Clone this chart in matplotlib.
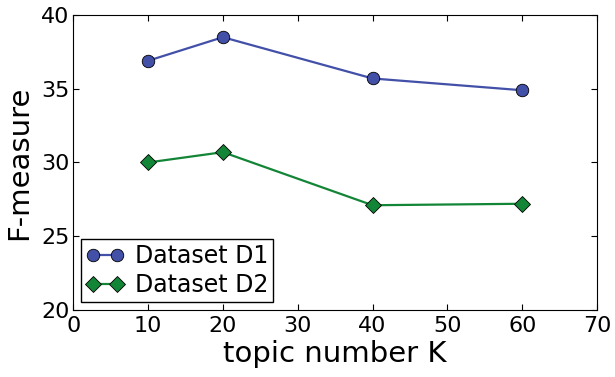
import matplotlib
matplotlib.use('Agg')
import matplotlib.pyplot as plt

# topic number K vs F-measure
topics = [10, 20, 40, 60]
d1_fmeasure = [36.9, 38.5, 35.7, 34.9]
d2_fmeasure = [30.0, 30.7, 27.1, 27.2]
labels = ['Dataset D1', 'Dataset D2']

blue = '#4250a8'
green = '#138537'

fig = plt.figure(figsize=(6.15, 3.77), dpi=100)
ax = fig.add_axes([0.119, 0.178, 0.852, 0.782])

ax.plot(topics, d1_fmeasure, color=blue, lw=1.6, marker='o', ms=9,
        markerfacecolor=blue, markeredgecolor='k', markeredgewidth=0.6,
        label=labels[0])
ax.plot(topics, d2_fmeasure, color=green, lw=1.6, marker='D', ms=8.5,
        markerfacecolor=green, markeredgecolor='k', markeredgewidth=0.6,
        label=labels[1])

ax.set_xlim(0, 70)
ax.set_ylim(20, 40)
ax.set_xticks(range(0, 71, 10))
ax.set_yticks(range(20, 41, 5))
ax.tick_params(direction='in', top=True, right=True, length=4,
               labelsize=16)
ax.tick_params(axis='x', pad=4.5)
ax.tick_params(axis='y', pad=2.5)
ax.set_xlabel('topic number K', fontsize=21, labelpad=3)
ax.set_ylabel('F-measure', fontsize=21, labelpad=6)

leg = ax.legend(loc='lower left', numpoints=2, fontsize=17, fancybox=False,
                handlelength=1.6, handletextpad=0.45, borderaxespad=0.35,
                borderpad=0.2, labelspacing=0.2, framealpha=1)
leg.get_frame().set_edgecolor('k')

fig.savefig('out.png', dpi=100)
